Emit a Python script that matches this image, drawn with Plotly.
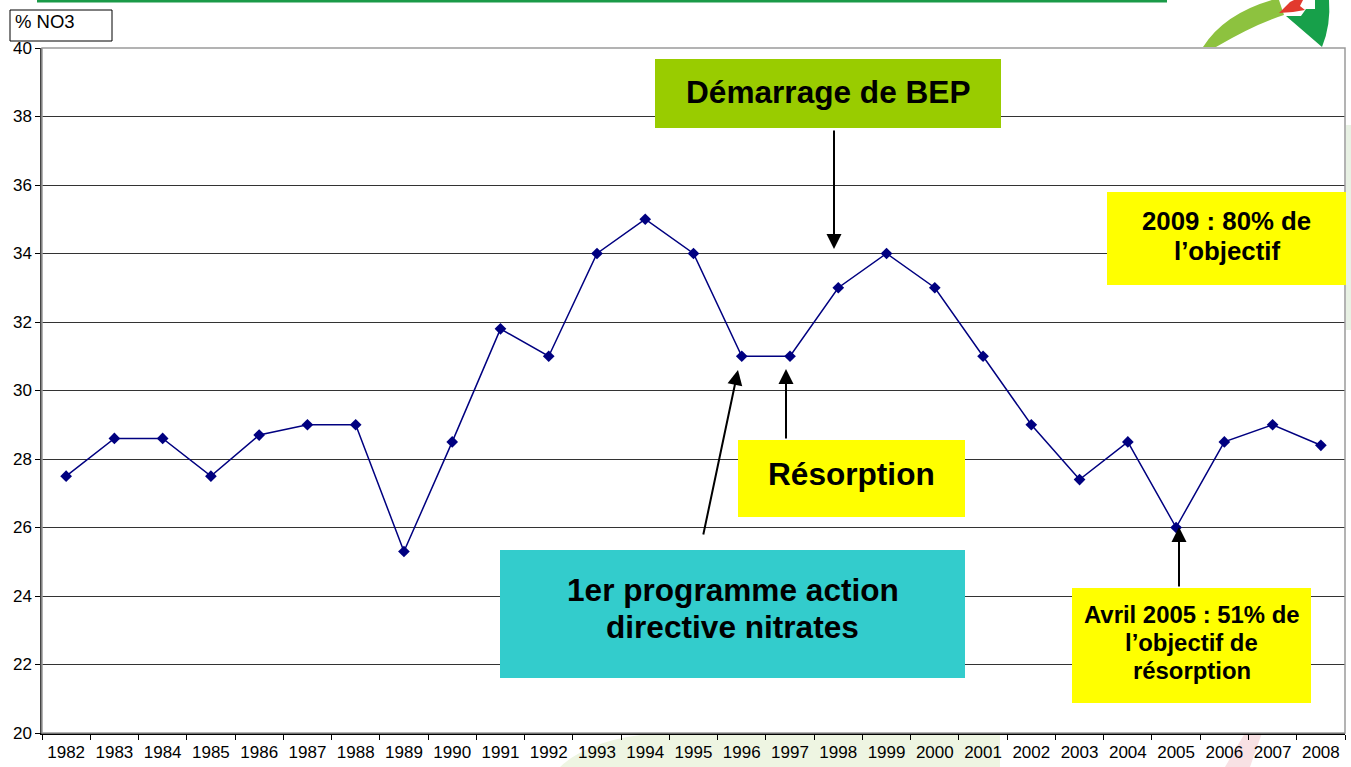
import plotly.graph_objects as go

# ---------------- data ----------------
years = ["1982", "1983", "1984", "1985", "1986", "1987", "1988", "1989", "1990",
         "1991", "1992", "1993", "1994", "1995", "1996", "1997", "1998", "1999",
         "2000", "2001", "2002", "2003", "2004", "2005", "2006", "2007", "2008"]
no3 = [27.5, 28.6, 28.6, 27.5, 28.7, 29.0, 29.0, 25.3, 28.5,
       31.8, 31.0, 34.0, 35.0, 34.0, 31.0, 31.0, 33.0, 34.0,
       33.0, 31.0, 29.0, 27.4, 28.5, 26.0, 28.5, 29.0, 28.4]
y_ticks = [20, 22, 24, 26, 28, 30, 32, 34, 36, 38, 40]
y_title = "% NO3"

# ---------------- layout helpers ----------------
W, H = 1351, 767
L, R, T, B = 42, 6, 48, 34
PW, PH = W - L - R, H - T - B
FONT = "Arial, Liberation Sans, sans-serif"


def px(x):
    return (x - L) / PW


def py(y):
    return (H - B - y) / PH


def path(points, close=True):
    """points: list of (cmd, [pixel points]); L with several points is split."""
    s = ""
    for cmd, pts in points:
        if cmd == "L":
            for a, b in pts:
                s += f"L{px(a):.5f},{py(b):.5f} "
        else:
            s += cmd + " ".join(f"{px(a):.5f},{py(b):.5f}" for a, b in pts) + " "
    return s + ("Z" if close else "")


fig = go.Figure()
fig.add_trace(go.Scatter(
    x=years, y=no3, mode="lines+markers",
    line=dict(color="#000080", width=1.5),
    marker=dict(symbol="diamond", size=9, color="#000080"),
    showlegend=False, hoverinfo="x+y",
))

shapes = []
annotations = []

# faint slide background decoration (below plot)
shapes.append(dict(type="path", xref="paper", yref="paper", layer="below",
                   path=path([("M", [(560, 767)]), ("Q", [(590, 738), (660, 733)]),
                              ("L", [(1000, 733), (1000, 767)])]),
                   fillcolor="#EEF5E2", line=dict(width=0)))
shapes.append(dict(type="path", xref="paper", yref="paper", layer="below",
                   path=path([("M", [(1225, 767)]), ("L", [(1245, 733), (1262, 733), (1250, 767)])]),
                   fillcolor="#F8E1E4", line=dict(width=0)))
shapes.append(dict(type="rect", xref="paper", yref="paper", layer="below",
                   x0=px(1346), x1=px(1351), y0=py(330), y1=py(125),
                   fillcolor="#E8F1E4", line=dict(width=0)))

# top green rule
shapes.append(dict(type="rect", xref="paper", yref="paper",
                   x0=px(37), x1=px(1167), y0=py(2.5), y1=py(0),
                   fillcolor="#1A9A48", line=dict(width=0)))

# logo (top right)
shapes.append(dict(type="path", xref="paper", yref="paper",
                   path=path([("M", [(1203, 47)]), ("Q", [(1224, 14), (1272, 0)]),
                              ("L", [(1279, 0), (1284, 15)]), ("Q", [(1255, 24), (1216, 47)])]),
                   fillcolor="#8DC23F", line=dict(width=0)))
shapes.append(dict(type="path", xref="paper", yref="paper",
                   path=path([("M", [(1286, 16)]), ("L", [(1301, 16), (1306, 9), (1315, 9), (1315, 0), (1329, 0)]),
                              ("Q", [(1331, 25), (1322, 47)])]),
                   fillcolor="#17A04A", line=dict(width=0)))
shapes.append(dict(type="path", xref="paper", yref="paper",
                   path=path([("M", [(1279, 13)]), ("L", [(1290, 2), (1294, 0), (1303, 0), (1300, 6),
                                                        (1305, 10), (1293, 12)])]),
                   fillcolor="#E23A2E", line=dict(width=0)))

# "% NO3" box
shapes.append(dict(type="rect", xref="paper", yref="paper",
                   x0=px(10), x1=px(112), y0=py(41), y1=py(10),
                   fillcolor="white", line=dict(color="black", width=1)))
annotations.append(dict(xref="paper", yref="paper", x=px(13), y=py(21),
                        xanchor="left", yanchor="middle", showarrow=False,
                        text=y_title, font=dict(size=18.5, color="black", family=FONT)))

# plot border (top / right in grey)
shapes.append(dict(type="rect", xref="paper", yref="paper", layer="above",
                   x0=0, x1=1, y0=0, y1=1, line=dict(color="#9A9A9A", width=1.5)))

# text boxes: (x0, y0, x1, y1, fill, lines, font size, line centre ys)
boxes = [
    (655, 59, 1001, 128, "#99CC00", ["Démarrage de BEP"], 31.6, [92]),
    (1107, 192, 1346, 285, "#FFFF00", ["2009 : 80% de", "l’objectif"], 25.8, [221, 251]),
    (738, 440, 965, 517, "#FFFF00", ["Résorption"], 31.6, [474]),
    (500, 550, 965, 678, "#33CCCC", ["1er programme action", "directive nitrates"], 31.6, [590, 627]),
    (1072, 588, 1311, 703, "#FFFF00", ["Avril 2005 : 51% de", "l’objectif de", "résorption"], 23.9,
     [614, 642, 670]),
]
for x0, y0, x1, y1, fill, lines, fs, tys in boxes:
    shapes.append(dict(type="rect", xref="paper", yref="paper", layer="above",
                       x0=px(x0), x1=px(x1), y0=py(y1), y1=py(y0),
                       fillcolor=fill, line=dict(width=0)))
    for txt, ty in zip(lines, tys):
        annotations.append(dict(xref="paper", yref="paper", x=px((x0 + x1) / 2), y=py(ty),
                                xanchor="center", yanchor="middle", showarrow=False,
                                text=f"<b>{txt}</b>", align="center",
                                font=dict(size=fs, color="black", family=FONT)))

# arrows: tip (x, y) and tail offset (ax, ay) in pixels
arrows = [
    (834, 249, 0, -120),
    (786, 369, 0, 71),
    (738, 370, -35, 166),
    (1179, 527, 0, 61),
]
for x, y, ax, ay in arrows:
    annotations.append(dict(xref="paper", yref="paper", x=px(x), y=py(y),
                            ax=ax, ay=ay, text="", showarrow=True,
                            arrowhead=2, arrowsize=1.5, arrowwidth=2,
                            arrowcolor="black", standoff=0, startstandoff=0))

fig.update_layout(
    width=W, height=H,
    margin=dict(l=L, r=R, t=T, b=B, pad=0),
    paper_bgcolor="white", plot_bgcolor="white",
    font=dict(family=FONT, color="black"),
    shapes=shapes, annotations=annotations,
    showlegend=False,
    xaxis=dict(type="category", range=[-0.5, len(years) - 0.5], tickangle=0,
               tickson="boundaries", ticks="outside", ticklen=5,
               tickcolor="black", tickwidth=1, showline=True, linecolor="black",
               linewidth=1.5, showgrid=False, zeroline=False, ticklabelstandoff=3,
               tickfont=dict(size=17, color="black", family=FONT), fixedrange=True),
    yaxis=dict(range=[20, 40], tickvals=y_ticks, ticks="outside", ticklen=5,
               tickcolor="black", tickwidth=1, showline=True, linecolor="#444444",
               linewidth=1.5, showgrid=True, gridcolor="#333333", gridwidth=1,
               zeroline=False, tickfont=dict(size=17, color="black", family=FONT),
               fixedrange=True),
)

fig.write_html("out.html", config={"displayModeBar": False},
               post_script="document.body.style.margin='0';document.body.style.overflow='hidden';")
